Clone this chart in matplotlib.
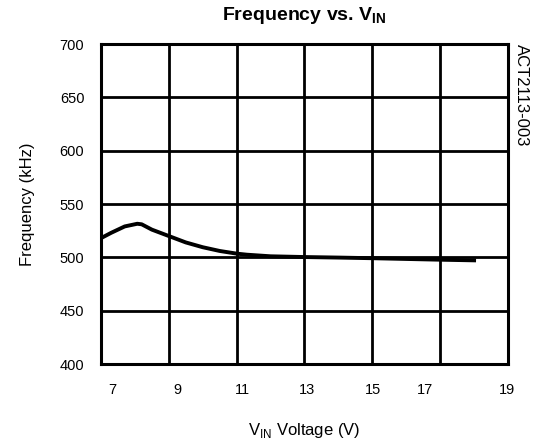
import matplotlib.pyplot as plt

plt.rcParams['font.family'] = ['Liberation Sans', 'DejaVu Sans']
plt.rcParams['mathtext.fontset'] = 'custom'
plt.rcParams['mathtext.rm'] = 'Liberation Sans'
plt.rcParams['mathtext.bf'] = 'Liberation Sans:bold'

# Data
vin = [7.0, 7.3, 7.7, 8.07, 8.2, 8.5, 9.0, 9.5, 10.0, 10.5, 11.0, 11.3, 12.0,
       13.0, 14.0, 15.0, 16.0, 17.0, 18.0]
freq = [518, 523, 529, 531.5, 531, 526, 520, 514, 509.5, 506, 503.5, 502.5, 501,
        500.3, 499.8, 499.2, 498.5, 497.8, 497.2]

grid_x = [7, 9, 11, 13, 15, 17, 19]
# tick labels sit slightly off the grid lines in the original
label_x = [7.32, 9.24, 11.16, 13.08, 15.02, 16.56, 18.97]
label_text = ['7', '9', '11', '13', '15', '17', '19']
y_ticks = [400, 450, 500, 550, 600, 650, 700]

fig = plt.figure(figsize=(5.42, 4.45), dpi=100)
ax = fig.add_axes([0.1863, 0.182, 0.751, 0.719])

ax.plot(vin, freq, color='black', linewidth=2.8, zorder=3)

ax.set_xlim(7, 19)
ax.set_ylim(400, 700)

# grid lines on major ticks, labels on minor ticks
ax.set_xticks(grid_x)
ax.set_xticklabels([])
ax.set_xticks(label_x, minor=True)
ax.set_xticklabels(label_text, minor=True)
ax.set_yticks(y_ticks)
ax.tick_params(axis='both', which='both', length=0, labelsize=10.5)
ax.tick_params(axis='x', which='minor', pad=14)
ax.tick_params(axis='y', pad=12)
ax.grid(True, which='major', color='black', linewidth=2)

for s in ax.spines.values():
    s.set_linewidth(2.2)

ax.set_title(r'Frequency vs. V$_{\mathbf{IN}}$', fontsize=14, fontweight='bold', pad=17)
ax.set_xlabel(r'V$_{\mathrm{IN}}$ Voltage (V)', fontsize=12, labelpad=17)
ax.set_ylabel('Frequency (kHz)', fontsize=12, labelpad=18)

fig.text(0.962, 0.902, 'ACT2113-003', rotation=-90, fontsize=12, va='top', ha='center')

plt.savefig('out.png', dpi=100)
